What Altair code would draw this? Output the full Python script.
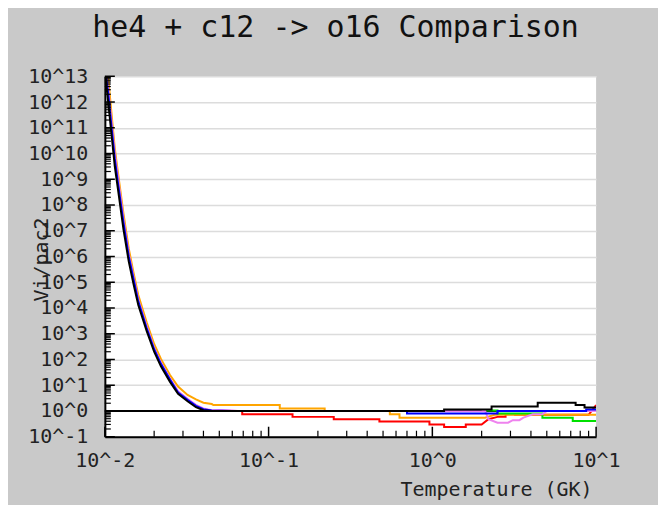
import altair as alt
import pandas as pd

# ---------------- data ----------------
title_text = ["he4 + c12 -> o16 Comparison"]

steep_T = [0.0100, 0.0105, 0.0110, 0.0115, 0.0120, 0.0130, 0.0140, 0.0150, 0.0160,
           0.0180, 0.0200, 0.0220, 0.0250, 0.0280, 0.0320, 0.0360, 0.0400, 0.0450]

black_steep = [1.6e13, 8.9e11, 5.0e10, 3.2e9, 4.5e8, 1.1e7, 6.3e5, 7.9e4, 1.3e4,
               1.3e3, 200, 54, 13.5, 4.6, 2.4, 1.4, 1.07, 1.0]
orange_steep = [3.2e13, 7.9e12, 3.2e11, 1.6e10, 2.0e9, 4.5e7, 2.0e6, 2.2e5, 3.2e4,
                2.8e3, 400, 105, 25, 8.9, 4.2, 2.8, 2.1, 1.86]
blue_steep = [2.5e13, 2.0e12, 1.0e11, 6.3e9, 7.9e8, 2.0e7, 1.0e6, 1.26e5, 1.8e4,
              1.66e3, 250, 68, 16.6, 5.2, 2.7, 1.58, 1.17, 1.05]
violet_steep = [3.2e13, 3.2e12, 1.6e11, 1.0e10, 1.26e9, 2.8e7, 1.26e6, 1.5e5, 2.1e4,
                2.0e3, 280, 76, 18, 5.8, 2.95, 1.74, 1.26, 1.07]

black_tail_T = [1.18, 1.18, 2.3, 2.3, 4.4, 4.4, 7.5, 7.5, 8.5, 8.5, 10.0]
black_tail_v = [1.0, 1.15, 1.15, 1.48, 1.48, 2.1, 2.1, 1.7, 1.7, 1.35, 1.35]

blue_tail_T = [0.06, 0.70, 0.70, 2.5, 2.5, 8.7, 8.7, 10.0]
blue_tail_v = [1.0, 1.0, 0.8, 0.8, 1.0, 1.0, 1.15, 1.15]

violet_tail_T = [0.05, 0.06, 0.065, 2.1, 2.2, 2.5, 2.9, 3.1, 3.4, 3.6, 4.1, 4.7, 5.0, 10.0]
violet_tail_v = [1.08, 1.05, 1.0, 1.0, 0.48, 0.35, 0.35, 0.44, 0.44, 0.55, 0.74, 0.74, 1.0, 1.0]

orange_tail_T = [0.046, 0.117, 0.117, 0.22, 0.22, 0.55, 0.55, 0.63, 0.63, 2.1, 2.4, 10.0]
orange_tail_v = [1.7, 1.7, 1.26, 1.26, 1.0, 1.0, 0.74, 0.74, 0.55, 0.55, 0.71, 0.71]

red_T = [0.045, 0.069, 0.069, 0.14, 0.14, 0.25, 0.25, 0.475, 0.475, 0.96, 0.96, 1.18,
         1.18, 1.6, 1.6, 2.0, 2.2, 2.5, 2.8, 2.8, 3.2, 3.2, 9.0, 10.0]
red_v = [1.0, 1.0, 0.74, 0.74, 0.59, 0.59, 0.48, 0.48, 0.39, 0.39, 0.30, 0.30,
         0.24, 0.24, 0.30, 0.30, 0.48, 0.59, 0.59, 0.74, 0.74, 0.71, 0.71, 1.7]

green_T = [2.0, 2.5, 2.5, 4.7, 4.7, 7.2, 7.2, 10.0]
green_v = [1.05, 1.05, 0.8, 0.8, 0.55, 0.55, 0.41, 0.41]

purple_T = [1.2, 2.0]
purple_v = [1.1, 1.1]

x_tick_labels = [0.01, 0.1, 1.0, 10.0]
y_tick_labels = [10.0 ** k for k in range(-1, 14)]

series = [
    ("red", "#ff0000", red_T, red_v),
    ("orange", "#ffa500", steep_T + orange_tail_T, orange_steep + orange_tail_v),
    ("green", "#00e000", green_T, green_v),
    ("violet", "#ee82ee", steep_T + violet_tail_T, violet_steep + violet_tail_v),
    ("blue", "#0000ff", steep_T + blue_tail_T, blue_steep + blue_tail_v),
    ("purple", "#a050b0", purple_T, purple_v),
    ("black", "#000000", steep_T + black_tail_T, black_steep + black_tail_v),
]

# ---------------- chart ----------------
W, H = 492, 361
FONT = "DejaVu Sans Mono"

xscale = alt.Scale(type="log", domain=[0.01, 10])
yscale = alt.Scale(type="log", domain=[0.1, 1e13])
label_expr = "'10^' + round(log(datum.value)/LN10)"

x_axis = alt.Axis(values=x_tick_labels, labelExpr=label_expr, grid=False, ticks=False,
                  tickSize=0, labelPadding=14, labelFontSize=20, labelFont=FONT,
                  labelColor="#222222", title="Temperature (GK)", titleFont=FONT,
                  titleFontSize=20, titleFontWeight="normal", titleColor="#222222",
                  titleX=488, titleY=59, titleAlign="right", titleBaseline="alphabetic",
                  domainColor="black", domainWidth=2, labelFlush=False)
y_axis = alt.Axis(values=y_tick_labels, labelExpr=label_expr, grid=True,
                  gridColor="#dcdcdc", gridWidth=1.5, ticks=False, tickSize=0,
                  labelPadding=17, labelFontSize=20, labelFont=FONT, labelColor="#222222",
                  title="Vi/pac2", titleFont=FONT, titleFontSize=20,
                  titleFontWeight="normal", titleColor="#222222", titleAngle=-90,
                  titleX=-57, titleY=183, titleAlign="center", titleBaseline="alphabetic",
                  domainColor="black", domainWidth=2, labelFlush=False, labelOverlap=False)

# reference line at 1
ref_df = pd.DataFrame({"v": [1.0]})
ref = alt.Chart(ref_df).mark_rule(color="black", strokeWidth=2).encode(
    y=alt.Y("v:Q", scale=yscale, axis=y_axis)
)

layers = [ref]
for name, col, Ts, vs in series:
    df = pd.DataFrame({"T": Ts, "v": vs, "i": list(range(len(Ts)))})
    layers.append(
        alt.Chart(df).mark_line(color=col, strokeWidth=2, clip=True).encode(
            x=alt.X("T:Q", scale=xscale, axis=x_axis),
            y=alt.Y("v:Q", scale=yscale, axis=y_axis),
            order="i:Q",
        )
    )

# inward tick marks
y_major = pd.DataFrame({"v": y_tick_labels})
y_minor = pd.DataFrame({"v": [m * 10.0 ** k for k in range(-1, 13) for m in range(2, 10)]})
x_major = pd.DataFrame({"T": x_tick_labels})
x_minor = pd.DataFrame({"T": [m * 10.0 ** k for k in range(-2, 1) for m in range(2, 10)]})

layers.append(alt.Chart(y_major).mark_rule(color="black", strokeWidth=1.5).encode(
    y=alt.Y("v:Q", scale=yscale, axis=y_axis), x=alt.value(0), x2=alt.value(10)))
layers.append(alt.Chart(y_minor).mark_rule(color="black", strokeWidth=1.2).encode(
    y=alt.Y("v:Q", scale=yscale, axis=y_axis), x=alt.value(0), x2=alt.value(6)))
layers.append(alt.Chart(x_major).mark_rule(color="black", strokeWidth=1.5).encode(
    x=alt.X("T:Q", scale=xscale, axis=x_axis), y=alt.value(H), y2=alt.value(H - 10)))
layers.append(alt.Chart(x_minor).mark_rule(color="black", strokeWidth=1.2).encode(
    x=alt.X("T:Q", scale=xscale, axis=x_axis), y=alt.value(H), y2=alt.value(H - 6)))

# chart title as a text mark above the plot area
title_df = pd.DataFrame({"t": title_text})
layers.append(alt.Chart(title_df).mark_text(
    font=FONT, fontSize=30, color="#111111", align="center", baseline="alphabetic"
).encode(text="t:N", x=alt.value(231), y=alt.value(-39)))

chart = alt.layer(*layers).properties(
    width=W,
    height=H,
    autosize=alt.AutoSizeParams(type="none"),
    padding={"left": 97, "top": 68, "right": 62, "bottom": 68},
    background="#c9c9c9",
).configure_view(fill="white", stroke=None)

chart.save("out.html", embed_options={"renderer": "svg", "actions": False})
